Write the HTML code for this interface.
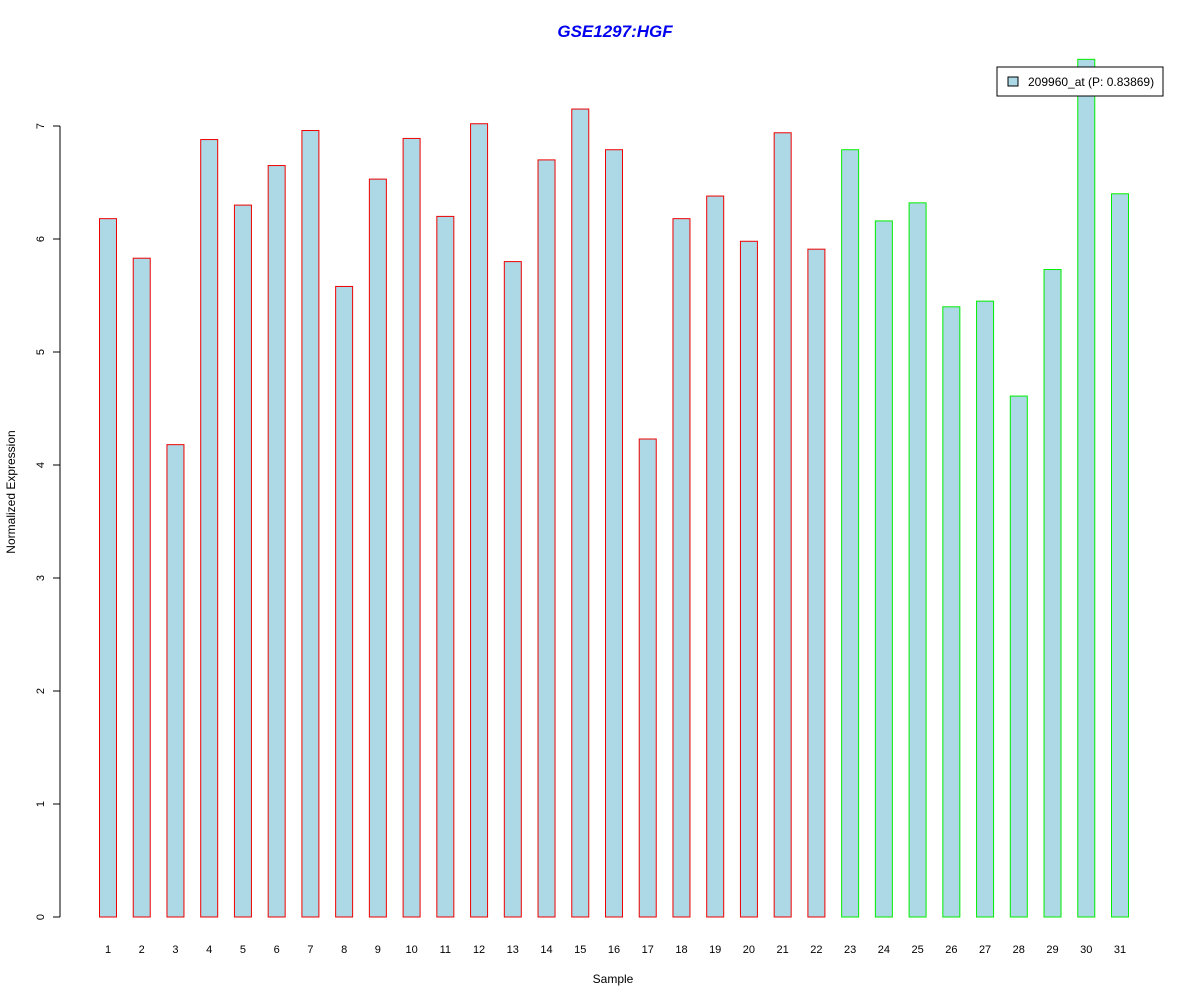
<!DOCTYPE html>
<html><head><meta charset="utf-8"><style>
body{margin:0;background:#fff;}
svg{display:block;font-family:"Liberation Sans",Arial,sans-serif;}
</style></head><body>
<svg id="chart" width="1200" height="1000" xmlns="http://www.w3.org/2000/svg">
<rect width="1200" height="1000" fill="#fff"/>
<text x="615" y="37" text-anchor="middle" font-size="17" font-weight="bold" font-style="italic" fill="#0000ee">GSE1297:HGF</text>
<text x="613" y="983" text-anchor="middle" font-size="12">Sample</text>
<text transform="translate(15,492) rotate(-90)" text-anchor="middle" font-size="12">Normalized Expression</text>
<g id="yaxis"></g>
<g id="bars"></g>
<g id="xlabels"></g>
<g>
<rect x="997" y="67" width="166" height="29" fill="#fff" stroke="#000"/>
<rect x="1008" y="77" width="10" height="9" fill="#add8e6" stroke="#000"/>
<text x="1028" y="86" font-size="12">209960_at (P: 0.83869)</text>
</g>
</svg>
<script>
const categories=["1","2","3","4","5","6","7","8","9","10","11","12","13","14","15","16","17","18","19","20","21","22","23","24","25","26","27","28","29","30","31"];
const values=[6.18,5.83,4.18,6.88,6.30,6.65,6.96,5.58,6.53,6.89,6.20,7.02,5.80,6.70,7.15,6.79,4.23,6.18,6.38,5.98,6.94,5.91,6.79,6.16,6.32,5.40,5.45,4.61,5.73,7.59,6.40];
const groups=["a","a","a","a","a","a","a","a","a","a","a","a","a","a","a","a","a","a","a","a","a","a","b","b","b","b","b","b","b","b","b"];
const yTicks=[0,1,2,3,4,5,6,7];
const NS="http://www.w3.org/2000/svg";
function y(v){return 917-v*113;}
function x(i){return 108+i*(1120-108)/(categories.length-1);}
function mk(tag,attrs,parent){const e=document.createElementNS(NS,tag);for(const k in attrs)e.setAttribute(k,attrs[k]);parent.appendChild(e);return e;}
const ya=document.getElementById('yaxis');
const axl=mk('line',{x1:60,x2:60,y1:y(yTicks[yTicks.length-1]),y2:y(yTicks[0]),stroke:'#000'},ya);


yTicks.forEach(t=>{
 const l=mk('line',{x1:53,x2:60,y1:y(t),y2:y(t),stroke:'#000'},ya);
 
 
 const tx=mk('text',{transform:`translate(44,${y(t)}) rotate(-90)`,'text-anchor':'middle','font-size':'11'},ya);
 tx.textContent=t;
 
 
});
const bg=document.getElementById('bars'),xl=document.getElementById('xlabels');
values.forEach((v,i)=>{
 const r=mk('rect',{x:x(i)-8.5,y:y(v),width:17,height:y(0)-y(v),fill:'#add8e6',stroke:groups[i]==='a'?'#ee0000':'#00ee00'},bg);
 
 
 const t=mk('text',{x:x(i),y:953,'text-anchor':'middle','font-size':'11'},xl);
 t.textContent=categories[i];
 
 
});
</script>
</body></html>
